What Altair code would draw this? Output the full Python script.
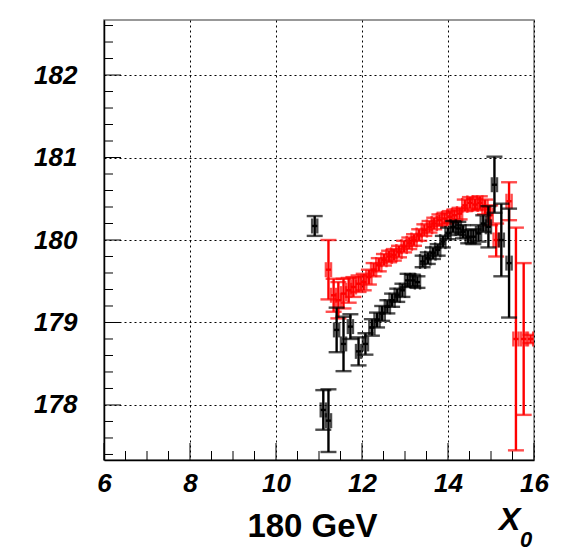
import altair as alt
import pandas as pd

# ---- data ----
black_x = [10.90, 11.10, 11.22, 11.41, 11.57, 11.73, 11.92, 12.08, 12.23, 12.35,
           12.47, 12.59, 12.70, 12.82, 12.94, 13.06, 13.18, 13.29, 13.41, 13.53,
           13.65, 13.76, 13.88, 14.00, 14.12, 14.24, 14.35, 14.47, 14.59, 14.71,
           14.82, 14.94, 15.08, 15.24, 15.42]
black_y = [180.17, 177.94, 177.81, 178.91, 178.74, 178.95, 178.65, 178.74, 178.94, 179.03,
           179.11, 179.19, 179.27, 179.33, 179.39, 179.51, 179.51, 179.49, 179.74, 179.78,
           179.84, 179.88, 179.98, 180.08, 180.16, 180.14, 180.10, 180.04, 180.04, 180.08,
           180.20, 180.16, 180.67, 180.00, 179.72]
black_err = [0.12, 0.24, 0.38, 0.27, 0.33, 0.15, 0.17, 0.13, 0.10, 0.09,
             0.09, 0.08, 0.08, 0.08, 0.08, 0.08, 0.07, 0.07, 0.07, 0.07,
             0.07, 0.07, 0.07, 0.07, 0.07, 0.08, 0.08, 0.08, 0.09, 0.10,
             0.10, 0.25, 0.34, 0.44, 0.66]

red_x = [11.22, 11.34, 11.45, 11.57, 11.69, 11.80, 11.92, 12.04, 12.16, 12.27,
         12.39, 12.51, 12.63, 12.74, 12.86, 12.98, 13.10, 13.21, 13.33, 13.45,
         13.57, 13.68, 13.80, 13.92, 14.04, 14.15, 14.27, 14.39, 14.51, 14.63,
         14.74, 14.86, 14.98, 15.12, 15.42, 15.58, 15.76, 15.92]
red_y = [179.64, 179.33, 179.27, 179.35, 179.39, 179.43, 179.47, 179.49, 179.55, 179.64,
         179.70, 179.76, 179.80, 179.82, 179.86, 179.92, 179.96, 180.00, 180.06, 180.12,
         180.16, 180.20, 180.24, 180.26, 180.28, 180.30, 180.32, 180.42, 180.45, 180.43,
         180.45, 180.40, 180.30, 180.00, 180.47, 178.80, 178.80, 178.80]
red_err = [0.36, 0.20, 0.22, 0.18, 0.15, 0.12, 0.10, 0.10, 0.09, 0.08,
           0.08, 0.07, 0.07, 0.07, 0.07, 0.07, 0.07, 0.07, 0.07, 0.07,
           0.07, 0.07, 0.07, 0.07, 0.07, 0.07, 0.07, 0.07, 0.07, 0.07,
           0.08, 0.09, 0.12, 0.20, 0.23, 1.35, 0.92, 0.05]

x_half_width = 0.06

x_major = [6, 8, 10, 12, 14, 16]
x_minor = [6.5, 7, 7.5, 8.5, 9, 9.5, 10.5, 11, 11.5, 12.5, 13, 13.5, 14.5, 15, 15.5]
y_major = [178, 179, 180, 181, 182]
y_minor = [177.4, 177.6, 177.8, 178.2, 178.4, 178.6, 178.8, 179.2, 179.4, 179.6, 179.8,
           180.2, 180.4, 180.6, 180.8, 181.2, 181.4, 181.6, 181.8, 182.2, 182.4, 182.6]

x_domain = [6, 16]
y_domain = [177.333, 182.667]

# ---- build tables ----
rows = []
for s, xs_, ys_, es_ in (("red", red_x, red_y, red_err), ("black", black_x, black_y, black_err)):
    for a, b, e in zip(xs_, ys_, es_):
        rows.append({"series": s, "x": a, "y": b, "err": e, "xerr": x_half_width})
df = pd.DataFrame(rows)

W, H = 430, 440
FONT = "Liberation Sans"
SW = 2.4

xs = alt.Scale(domain=x_domain, nice=False, zero=False)
ys = alt.Scale(domain=y_domain, nice=False, zero=False)

xaxis = alt.Axis(values=x_major, format="d", ticks=False, domain=True, domainColor="black",
                 domainWidth=1.5, grid=True, gridColor="black", gridDash=[2, 3], gridWidth=1,
                 labelFont=FONT, labelFontSize=26, labelFontStyle="italic", labelFontWeight="bold",
                 labelColor="black", labelPadding=10, labelFlush=False, labelOverlap=False,
                 title="180 GeV", titleFont=FONT, titleFontSize=33, titleFontWeight="bold",
                 titleColor="black", titleX=208, titleY=76, titleAlign="center",
                 titleBaseline="alphabetic", titleAnchor="start")
yaxis = alt.Axis(values=y_major, format="d", ticks=False, domain=True, domainColor="black",
                 domainWidth=1.5, grid=True, gridColor="black", gridDash=[2, 3], gridWidth=1,
                 labelFont=FONT, labelFontSize=26, labelFontStyle="italic", labelFontWeight="bold",
                 labelColor="black", labelPadding=27, labelFlush=False, labelOverlap=False,
                 title=None)


def X(f):
    return alt.X(f, type="quantitative", scale=xs, axis=xaxis)


def Y(f):
    return alt.Y(f, type="quantitative", scale=ys, axis=yaxis)


color = alt.Color("series:N", scale=alt.Scale(domain=["black", "red"], range=["#000000", "#ff0000"]),
                  legend=None)

base = alt.Chart(df).transform_calculate(
    ylo="datum.y - datum.err", yhi="datum.y + datum.err",
    xlo="datum.x - datum.xerr", xhi="datum.x + datum.xerr")

layers = []
for s in ("red", "black"):
    b = base.transform_filter(alt.datum.series == s)
    layers += [
        b.mark_rule(strokeWidth=SW, clip=True).encode(x=X("x"), y=Y("ylo"), y2="yhi:Q", color=color),
        b.mark_rule(strokeWidth=SW, clip=True).encode(x=X("xlo"), x2="xhi:Q", y=Y("y"), color=color),
        b.mark_tick(orient="horizontal", size=16, thickness=SW, clip=True).encode(x=X("x"), y=Y("ylo"), color=color),
        b.mark_tick(orient="horizontal", size=16, thickness=SW, clip=True).encode(x=X("x"), y=Y("yhi"), color=color),
        b.mark_tick(orient="vertical", size=15, thickness=SW, clip=True).encode(x=X("xlo"), y=Y("y"), color=color),
        b.mark_tick(orient="vertical", size=15, thickness=SW, clip=True).encode(x=X("xhi"), y=Y("y"), color=color),
    ]

# inward axis ticks
xt_major = alt.Chart(pd.DataFrame({"v": x_major})).mark_rule(color="black", strokeWidth=1).encode(
    x=X("v"), y=alt.value(H), y2=alt.value(H - 17))
xt_minor = alt.Chart(pd.DataFrame({"v": x_minor})).mark_rule(color="black", strokeWidth=1).encode(
    x=X("v"), y=alt.value(H), y2=alt.value(H - 9))
yt_major = alt.Chart(pd.DataFrame({"v": y_major})).mark_rule(color="black", strokeWidth=1).encode(
    y=Y("v"), x=alt.value(0), x2=alt.value(17))
yt_minor = alt.Chart(pd.DataFrame({"v": y_minor})).mark_rule(color="black", strokeWidth=1).encode(
    y=Y("v"), x=alt.value(0), x2=alt.value(9))

lab = pd.DataFrame({"t": ["X"], "s": ["0"]})
x_title = alt.Chart(lab).mark_text(font=FONT, fontSize=32, fontStyle="italic", fontWeight="bold",
                                   align="left", baseline="alphabetic", color="black").encode(
    text="t:N", x=alt.value(395), y=alt.value(510))
x_sub = alt.Chart(lab).mark_text(font=FONT, fontSize=22, fontStyle="italic", fontWeight="bold",
                                 align="left", baseline="alphabetic", color="black").encode(
    text="s:N", x=alt.value(416), y=alt.value(527))

chart = alt.layer(xt_major, xt_minor, yt_major, yt_minor, *layers, x_title, x_sub).properties(
    width=W, height=H,
    autosize=alt.AutoSizeParams(type="none"),
    padding={"left": 104, "top": 20, "right": 33, "bottom": 89},
    background="white",
).configure_view(stroke="#777777", strokeWidth=1.5)

chart.save("out.html", embed_options={"renderer": "svg", "actions": False})
